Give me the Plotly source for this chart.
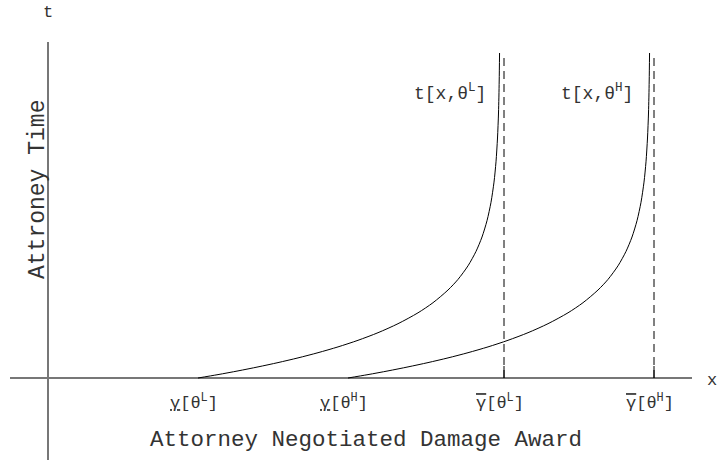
import plotly.graph_objects as go

# ---- data (x: award, y: attorney time) ----
curve_L_x = [1.50, 1.70, 1.90, 2.10, 2.30, 2.50, 2.70, 2.90, 3.10, 3.30, 3.50,
             3.70, 3.85, 4.00, 4.10, 4.20, 4.28, 4.34, 4.39, 4.43, 4.46, 4.48,
             4.495, 4.505, 4.512, 4.5155]
curve_L_y = [0.000, 0.034, 0.071, 0.111, 0.154, 0.201, 0.253, 0.311, 0.377, 0.453,
             0.543, 0.652, 0.753, 0.880, 0.986, 1.122, 1.266, 1.410, 1.573, 1.757,
             1.959, 2.162, 2.400, 2.650, 2.970, 3.250]
curve_H_x = [3.00, 3.20, 3.40, 3.60, 3.80, 4.00, 4.20, 4.40, 4.60, 4.80, 5.00,
             5.20, 5.35, 5.50, 5.60, 5.70, 5.78, 5.84, 5.89, 5.93, 5.96, 5.98,
             5.995, 6.005, 6.012, 6.0155]
curve_H_y = [0.000, 0.034, 0.071, 0.111, 0.154, 0.201, 0.253, 0.311, 0.377, 0.453,
             0.543, 0.652, 0.753, 0.880, 0.986, 1.122, 1.266, 1.410, 1.573, 1.757,
             1.959, 2.162, 2.400, 2.650, 2.970, 3.250]

upper_bounds = [4.56, 6.06]          # gamma-bar positions (dashed asymptotes)
dash_top = 3.25
tick_positions = [1.50, 3.00, 4.56, 6.06]
U = '<span style="text-decoration:underline">γ</span>'
O = '<span style="text-decoration:overline">γ</span>'
tick_labels = [U + "[θ<sup>L</sup>]", U + "[θ<sup>H</sup>]",
               O + "[θ<sup>L</sup>]", O + "[θ<sup>H</sup>]"]
curve_labels = ["t[x,θ<sup>L</sup>]", "t[x,θ<sup>H</sup>]"]
curve_label_x = [4.40, 5.87]
curve_label_y = 2.86

FONT = "Liberation Mono, Courier New, monospace"
TXT = "#333333"

fig = go.Figure()

# axes (drawn as lines through the origin)
fig.add_trace(go.Scatter(x=[-0.38, 6.44], y=[0, 0], mode="lines",
                         line=dict(color="#777777", width=2), hoverinfo="skip"))
fig.add_trace(go.Scatter(x=[0, 0], y=[-0.82, 3.36], mode="lines",
                         line=dict(color="#777777", width=2), hoverinfo="skip"))

# dashed asymptotes
for xb in upper_bounds:
    fig.add_trace(go.Scatter(x=[xb, xb], y=[0, dash_top], mode="lines",
                             line=dict(color="black", width=1, dash="8px,5px"),
                             hoverinfo="skip"))
    fig.add_trace(go.Scatter(x=[xb, xb], y=[0, 0.12], mode="lines",
                             line=dict(color="black", width=1), hoverinfo="skip"))

# curves
fig.add_trace(go.Scatter(x=curve_L_x, y=curve_L_y, mode="lines",
                         line=dict(color="black", width=1, shape="spline", smoothing=0.8)))
fig.add_trace(go.Scatter(x=curve_H_x, y=curve_H_y, mode="lines",
                         line=dict(color="black", width=1, shape="spline", smoothing=0.8)))

ann = []
for xv, lab in zip(tick_positions, tick_labels):
    ann.append(dict(x=xv, y=-0.24, xref="x", yref="y", text=lab, showarrow=False,
                    font=dict(family=FONT, size=17, color=TXT), xanchor="center",
                    yanchor="middle", xshift=-4))
for xv, lab in zip(curve_label_x, curve_labels):
    ann.append(dict(x=xv, y=curve_label_y, xref="x", yref="y", text=lab,
                    showarrow=False, font=dict(family=FONT, size=18, color=TXT),
                    xanchor="right", yanchor="middle"))
ann.append(dict(x=366 / 719, y=1 - 440 / 465, xref="paper", yref="paper",
                text="Attorney Negotiated Damage Award", showarrow=False,
                font=dict(family=FONT, size=22.5, color=TXT),
                xanchor="center", yanchor="middle"))
ann.append(dict(x=38 / 719, y=1 - 190 / 465, xref="paper", yref="paper",
                text="Attroney Time", showarrow=False, textangle=-90,
                font=dict(family=FONT, size=23, color=TXT),
                xanchor="center", yanchor="middle"))
ann.append(dict(x=0, y=3.66, xref="x", yref="y", text="t", showarrow=False,
                font=dict(family=FONT, size=17, color=TXT),
                xanchor="center", yanchor="middle"))
ann.append(dict(x=1, y=-0.02, xref="paper", yref="y", text="x", showarrow=False,
                font=dict(family=FONT, size=17, color=TXT),
                xanchor="right", yanchor="middle"))

fig.update_layout(
    width=719, height=465, margin=dict(l=0, r=0, t=0, b=0),
    paper_bgcolor="white", plot_bgcolor="white", showlegend=False,
    xaxis=dict(range=[-0.48, 6.71], visible=False, fixedrange=True),
    yaxis=dict(range=[-0.87, 3.78], visible=False, fixedrange=True),
    annotations=ann,
)

fig.write_html("out.html", config={"displayModeBar": False},
               post_script="document.body.style.margin='0';document.body.style.overflow='hidden';")
